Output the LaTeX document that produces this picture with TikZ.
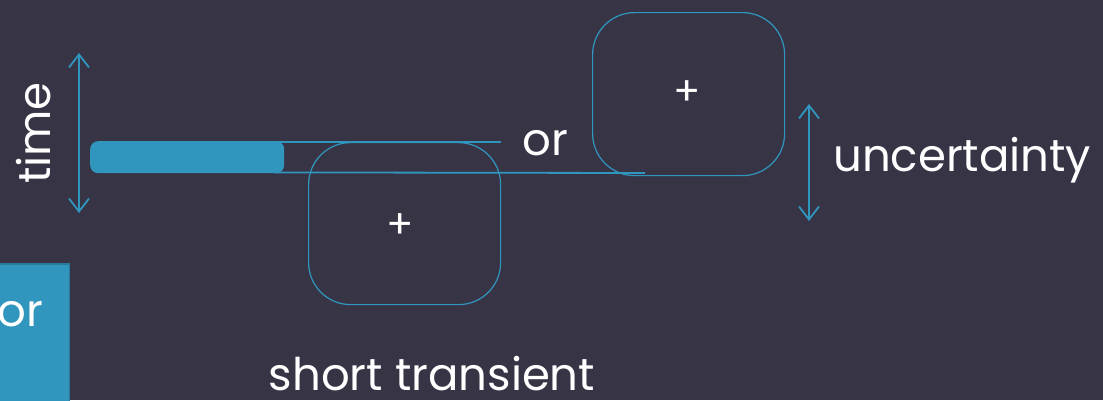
\documentclass[tikz,border=0pt]{standalone}
\usepackage{fontspec}
\setmainfont{Poppins}
\usetikzlibrary{arrows.meta}
\definecolor{bg}{HTML}{373446}
\definecolor{accent}{HTML}{3196BE}
\definecolor{accentdark}{HTML}{2A7A9C}
\tikzset{
  txt/.style={text=white, font=\fontsize{45}{54}\selectfont, inner sep=0pt},
  plus/.style={text=white, font=\fontsize{40}{48}\selectfont, inner sep=0pt},
  roundbox/.style={draw=accent, line width=1.2pt, rounded corners=42pt},
  dimarrow/.style={draw=accent, line width=1.8pt, {Straight Barb[length=13pt,width=20pt]}-{Straight Barb[length=13pt,width=20pt]}},
  guide/.style={draw=accent, line width=1.8pt},
}
\begin{document}
\begin{tikzpicture}[x=1pt,y=-1pt]
\useasboundingbox (0,0) rectangle (1103,400);
\clip (0,0) rectangle (1103,400);
\fill[bg] (0,0) rectangle (1103,400);
% bottom-left partial box
\node[draw=accentdark, fill=accent, line width=1.5pt, minimum width=90pt, minimum height=150pt, anchor=north east, inner sep=0pt] (leftbox) at (70,263) {};
\node[txt, anchor=east] (leftor) at (43,314) {or};
% time arrow
\coordinate (ttop) at (79,53);
\coordinate (tbot) at (79,213);
\draw[dimarrow] (ttop) -- (tbot);
\node[txt, rotate=90] (time) at (34,133) {time};
% blue bar
\node[fill=accent, rounded corners=8pt, minimum width=194pt, minimum height=32pt, inner sep=0pt, anchor=north west] (bar) at (90,141) {};
% lower box
\node[roundbox, minimum width=192pt, minimum height=162pt, anchor=north west, inner sep=0pt] (lowbox) at (308,142) {};
\node[plus] (lowplus) at (400,226) {+};
% upper box
\node[roundbox, minimum width=192pt, minimum height=163pt, anchor=north west, inner sep=0pt] (upbox) at (592,12) {};
\node[plus] (upplus) at (687,93) {+};
% guide lines
\coordinate (topend) at (501,142);
\coordinate (botend) at (645,173);
\draw[guide] (bar.north east) ++(-10,1) -- (topend);
\draw[guide] (bar.south east) ++(-10,-1) -- (botend);
% or
\node[txt] (or) at (545,143) {or};
% uncertainty arrow
\coordinate (utop) at (809,104);
\coordinate (ubot) at (809,221);
\draw[dimarrow] (utop) -- (ubot);
\node[txt, anchor=west] (unc) at (833,160) {uncertainty};
% short transient
\node[txt] (st) at (432,374) {short transient};
\end{tikzpicture}
\end{document}
